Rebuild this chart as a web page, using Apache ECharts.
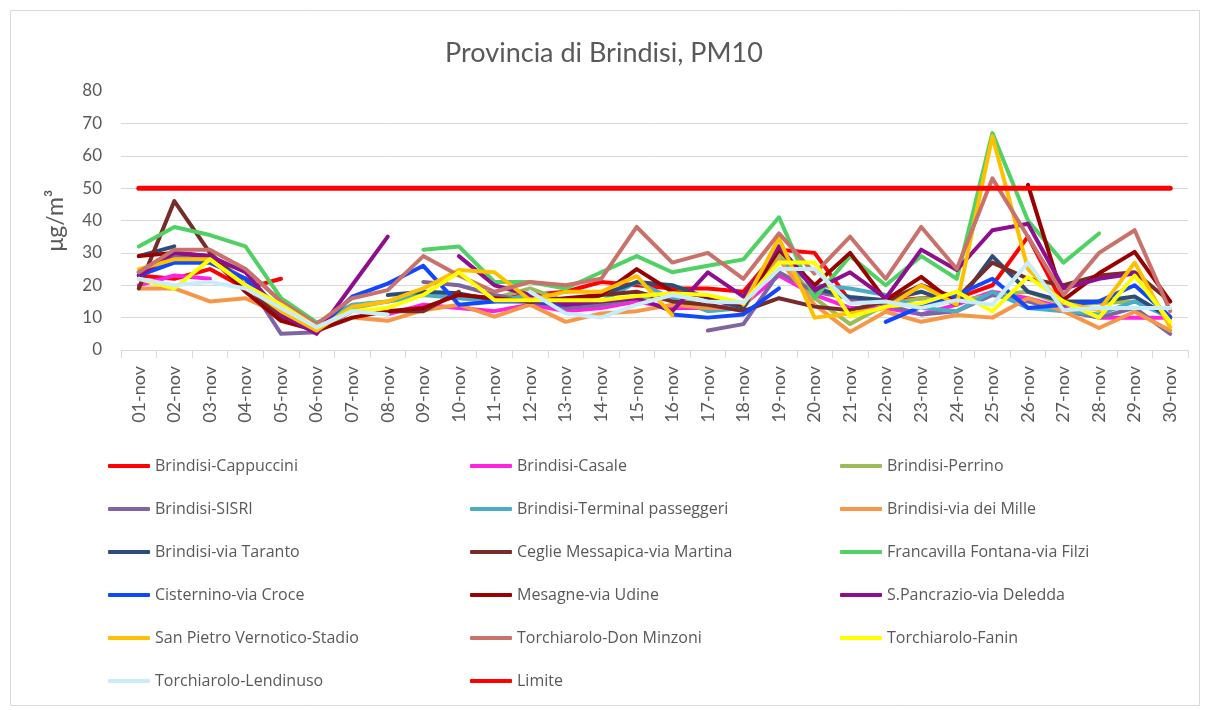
<!DOCTYPE html>
<html><head><meta charset="utf-8">
<script src="https://cdn.jsdelivr.net/npm/echarts@6/dist/echarts.min.js"></script>
<style>html,body{margin:0;padding:0;background:#fff}#c{width:1208px;height:710px}</style>
</head><body><div id="c"></div>
<script>
const categories = ['01-nov','02-nov','03-nov','04-nov','05-nov','06-nov','07-nov','08-nov','09-nov','10-nov','11-nov','12-nov','13-nov','14-nov','15-nov','16-nov','17-nov','18-nov','19-nov','20-nov','21-nov','22-nov','23-nov','24-nov','25-nov','26-nov','27-nov','28-nov','29-nov','30-nov'];
const yTicks = [0,10,20,30,40,50,60,70,80];
const n = null;
const cappuccini = [23,22,25,19,22,n,n,n,n,n,16,17,18,21,20,19,19,18,31,30,15,15,16,16,20,35,14,n,n,n];
const casale = [20,23,22,n,n,n,n,11,14,13,12,14,12,13,15,13,13,14,23,17,13,13,11,14,18,16,13,10,10,10];
const perrino = [24,27,27,22,13,7,13,15,17,17,16,19,15,14,16,17,13,13,30,16,8,14,16,15,17,18,14,14.5,15,n];
const sisri = [24,29,28,22,5,5.5,12,n,21,20,17,15,13,14,16,n,6,8,24,18,16,14,11,12,17,15,12,10,13,5];
const terminal = [24,27,27,25,15,8,14,15,17,16,15,17,14,15,21,16,12,13,28,20,19,17,13,12,18,13,12,11,15,10];
const viaMille = [19,19,15,16,11,6,10,9,12.3,14,10.3,14,8.7,11.3,12,14,13,13,28,14,5.6,11.8,8.7,10.8,10,16,12,6.8,11.8,6];
const viaTaranto = [29,32,n,n,n,n,n,17,18,17.5,15.4,15,14,17,21,20,16,13,32,19,16.4,15.4,18,14,29,18,15,15,16.5,10];
const ceglie = [19,46,30,20,10,6,n,12,12,18,n,17,15,17,18,15,14,12,16,13.4,12.3,15,20,16,27,22,20,23,24,15];
const francavilla = [32,38,35.5,32,16,8.5,13,n,31,32,21,21,19,24,29,24,26,28,41,16,29,20,29,22,67,40,27,36,n,n];
const cisternino = [23,27,27,22,12,6,16.5,20.5,26,14,15,15,14,15,n,11,10,11,19,n,n,8.7,13.4,17,22,13,14,15,20,10.3];
const mesagne = [29,30,29,18,9,6,10,12,13,17,16,15,16,17,25,18,16.5,14,31,20,30,15.4,22.6,14,n,51,15.5,23.7,30.3,15];
const pancrazio = [23,30,29,24,11,5,20,35,n,29,20,17,14,15,16,12,24,16.5,32,18.5,24,16,31,24.7,37,39,19,22,23.6,n];
const sanPietro = [25,28,28,20,12,6,13.4,15,19,24.7,24,15.4,18,18,22.8,10.8,n,14,34.5,10,11.3,13,20,14,66,25,14.5,12.3,27,7];
const donMinzoni = [24,31,31,25,15,8,16,18.5,29,23,18,21,20,22,38,27,30,22,36,23.6,35,22,38,25,53,35,17,30,37,12];
const fanin = [22,19,28,20,14,7,12,13,17,24,15.4,15.4,15.4,15.4,16.7,17.5,17,14.5,27,27,10.3,13.4,14.4,18,12,22.6,15,10,23,8.7];
const lendinuso = [22,20,21,19,13,7,12,11,n,n,n,18,11.3,10,14,17,15,14.7,25,25,14.4,15,13,15.4,14,27,12.3,13,13,13];
const limite = [50,50,50,50,50,50,50,50,50,50,50,50,50,50,50,50,50,50,50,50,50,50,50,50,50,50,50,50,50,50];

const seriesDefs = [
  ['Brindisi-Cappuccini', cappuccini, '#ff0000'],
  ['Brindisi-Casale', casale, '#ff22e0'],
  ['Brindisi-Perrino', perrino, '#9bbb59'],
  ['Brindisi-SISRI', sisri, '#8064a2'],
  ['Brindisi-Terminal passeggeri', terminal, '#4bacc6'],
  ['Brindisi-via dei Mille', viaMille, '#f79646'],
  ['Brindisi-via Taranto', viaTaranto, '#2c4d7a'],
  ['Ceglie Messapica-via Martina', ceglie, '#772c2a'],
  ['Francavilla Fontana-via Filzi', francavilla, '#4fd163'],
  ['Cisternino-via Croce', cisternino, '#1148ff'],
  ['Mesagne-via Udine', mesagne, '#990000'],
  ['S.Pancrazio-via Deledda', pancrazio, '#8e0f8e'],
  ['San Pietro Vernotico-Stadio', sanPietro, '#ffc000'],
  ['Torchiarolo-Don Minzoni', donMinzoni, '#c9716b'],
  ['Torchiarolo-Fanin', fanin, '#ffff00'],
  ['Torchiarolo-Lendinuso', lendinuso, '#c9ecfa'],
  ['Limite', limite, '#ff0000']
];

const FONT = 'Lato';
const TXT = '#595959';
const series = seriesDefs.map((d, i) => ({
  name: d[0], type: 'line', data: d[1], symbol: 'none', connectNulls: false,
  itemStyle: {color: d[2]},
  lineStyle: {color: d[2], width: d[0] === 'Limite' ? 5 : 4, cap: 'round', join: 'round'},
  z: 2 + i * 0.01, animation: false
}));

const names = seriesDefs.map(d => d[0]);
const col = k => names.filter((_, i) => i % 3 === k);
const legendBase = {
  orient: 'vertical', top: 458, padding: 0, itemWidth: 42, itemHeight: 4, icon: 'roundRect',
  itemGap: 27, textStyle: {fontFamily: 'Open Sans', fontSize: 16, color: TXT}, selectedMode: false
};

const chart = echarts.init(document.getElementById('c'), null, {renderer: 'canvas'});
chart.setOption({
  animation: false,
  backgroundColor: '#fff',
  title: {text: 'Provincia di Brindisi, PM10', left: 'center', top: 35,
    textStyle: {fontFamily: FONT, fontSize: 27, fontWeight: 'normal', color: TXT}},
  graphic: [{type: 'rect', shape: {x: 10.5, y: 10.5, width: 1189, height: 695},
    style: {fill: 'none', stroke: '#d9d9d9', lineWidth: 1}, silent: true}],
  legend: [
    Object.assign({}, legendBase, {left: 108, data: col(0)}),
    Object.assign({}, legendBase, {left: 470, data: col(1)}),
    Object.assign({}, legendBase, {left: 840, data: col(2)})
  ],
  grid: {left: 121, right: 20, top: 91, bottom: 360, containLabel: false},
  xAxis: {
    type: 'category', data: categories, boundaryGap: true,
    axisLine: {lineStyle: {color: '#d9d9d9', width: 1}},
    axisTick: {show: true, alignWithLabel: false, length: 8, lineStyle: {color: '#d9d9d9'}},
    axisLabel: {rotate: 90, interval: 0, margin: 16, fontFamily: FONT, fontSize: 18, color: TXT}
  },
  yAxis: {
    type: 'value', min: yTicks[0], max: yTicks[yTicks.length - 1], interval: 10,
    name: 'μg/m³', nameLocation: 'middle', nameRotate: 90, nameGap: 54,
    nameTextStyle: {fontFamily: FONT, fontSize: 23, color: TXT},
    axisLine: {show: false}, axisTick: {show: false},
    axisLabel: {margin: 19, fontFamily: FONT, fontSize: 17, color: TXT},
    splitLine: {lineStyle: {color: ['#d9d9d9','#d9d9d9','#d9d9d9','#d9d9d9','#d9d9d9','#d9d9d9','#d9d9d9','#d9d9d9','rgba(0,0,0,0)'], width: 1}}
  },
  series: series
});
</script></body></html>
